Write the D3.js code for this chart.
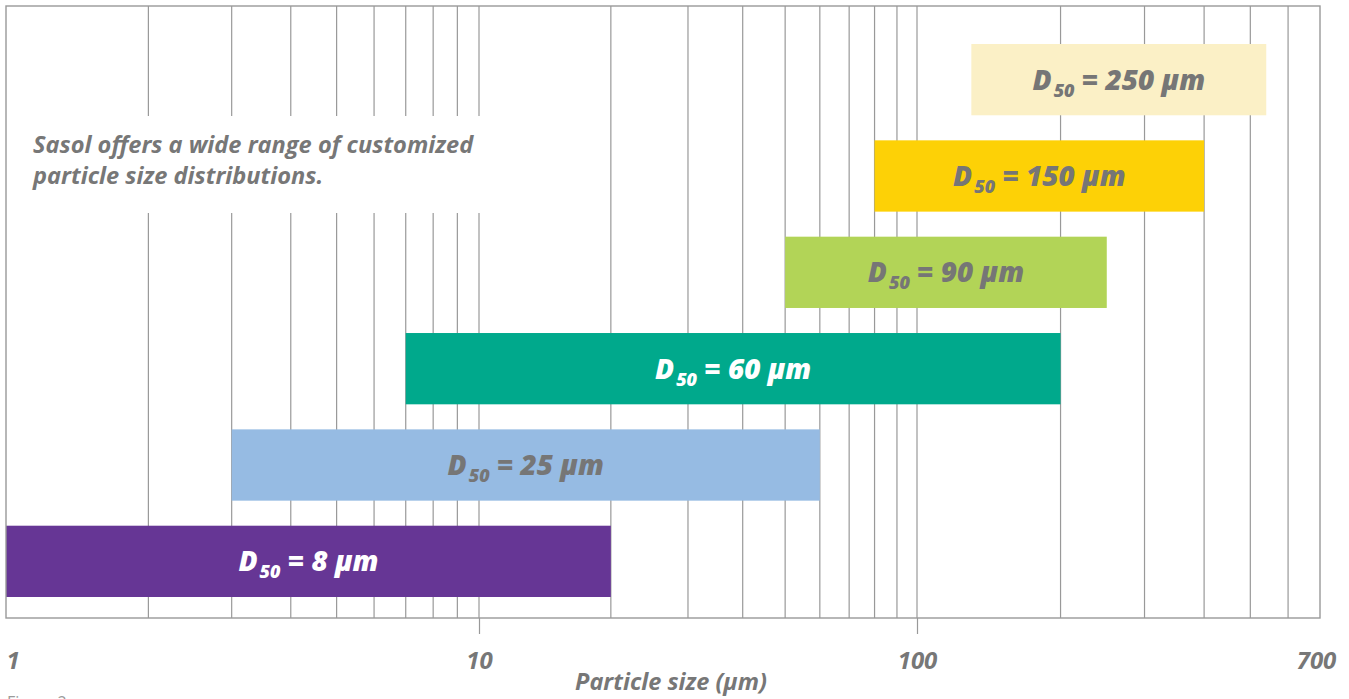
<!DOCTYPE html>
<html>
<head>
<meta charset="utf-8">
<script src="https://cdn.jsdelivr.net/npm/d3@7/dist/d3.min.js"></script>
<style>
  html, body { margin: 0; padding: 0; background: #fff; }
  svg { display: block; }
  text { font-family: "Open Sans", "DejaVu Sans", sans-serif; }
</style>
</head>
<body>
<svg id="chart" width="1349" height="699"></svg>
<script>
// ---- data ----
const categories = ["250", "150", "90", "60", "25", "8"];           // D50 in µm, top to bottom
const rangeMin   = [130, 80, 50, 7, 3, 1];                          // lower end of distribution (µm)
const rangeMax   = [540, 400, 250, 200, 60, 20];                    // upper end of distribution (µm)
const barColors  = ["#fbf0c6", "#fdd106", "#b2d457", "#00a98c", "#96bbe3", "#663695"];
const labelColors = ["#767676", "#767676", "#767676", "#ffffff", "#767676", "#ffffff"];
const tickValues = [1, 10, 100, 700];
const tickLabels = ["1", "10", "100", "700"];
const gridValues = [2, 3, 4, 5, 6, 7, 8, 9, 20, 30, 40, 50, 60, 70, 80, 90, 200, 300, 400, 500, 600];
const axisTitle = "Particle size (µm)";
const captionLines = ["Sasol offers a wide range of customized", "particle size distributions."];

// ---- layout ----
const svg = d3.select("#chart");
const plot = { left: 6, right: 1320, top: 6, bottom: 618 };
const gray = "#999999";
const textGray = "#777777";

const x = d3.scaleLog()
  .domain([1, 10, 100, 700])
  .range([plot.left, 479, 917, plot.right]);

const y = d3.scaleBand()
  .domain(categories)
  .range([44, 597])
  .paddingInner(0.26)
  .paddingOuter(0);

// gridlines
svg.append("g").selectAll("line").data(gridValues.concat([10, 100])).join("line")
  .attr("x1", d => x(d)).attr("x2", d => x(d))
  .attr("y1", plot.top).attr("y2", plot.bottom)
  .attr("stroke", gray).attr("stroke-width", 1.2);

// white box behind caption
svg.append("rect")
  .attr("x", plot.left + 1).attr("y", 116)
  .attr("width", 500).attr("height", 97)
  .attr("fill", "#fff");

// caption
const cap = svg.append("text")
  .attr("font-size", 23.6).attr("font-weight", 700).attr("font-style", "italic")
  .attr("fill", textGray);
captionLines.forEach((t, i) => {
  cap.append("tspan").attr("x", 33).attr("y", 153 + i * 31).text(t);
});

// bars
const rows = categories.map((c, i) => ({ c, lo: rangeMin[i], hi: rangeMax[i], color: barColors[i], lc: labelColors[i] }));
svg.append("g").selectAll("rect").data(rows).join("rect")
  .attr("x", d => x(d.lo))
  .attr("y", d => y(d.c))
  .attr("width", d => x(d.hi) - x(d.lo))
  .attr("height", y.bandwidth())
  .attr("fill", d => d.color);

// bar labels
const lab = svg.append("g").selectAll("text").data(rows).join("text")
  .attr("x", d => (x(d.lo) + x(d.hi)) / 2)
  .attr("y", d => y(d.c) + y.bandwidth() / 2 + 10)
  .attr("text-anchor", "middle")
  .attr("font-size", 28).attr("font-weight", 800).attr("font-style", "italic")
  .attr("fill", d => d.lc);
lab.append("tspan").text("D");
lab.append("tspan").attr("font-size", 18).attr("dy", 7).attr("dx", 2).text("50");
lab.append("tspan").attr("dy", -7).text(d => " = " + d.c + " µm");

// frame
svg.append("rect")
  .attr("x", plot.left).attr("y", plot.top)
  .attr("width", plot.right - plot.left).attr("height", plot.bottom - plot.top)
  .attr("fill", "none").attr("stroke", gray).attr("stroke-width", 1.4);

// axis
const axis = d3.axisBottom(x)
  .tickValues(tickValues)
  .tickFormat((d, i) => tickLabels[i])
  .tickSize(16)
  .tickPadding(18);
const ag = svg.append("g").attr("transform", `translate(0,${plot.bottom})`).call(axis);
ag.select(".domain").remove();
ag.selectAll(".tick line").attr("stroke", gray).attr("stroke-width", 1.2)
  .attr("display", d => (d === 10 || d === 100) ? null : "none");
ag.selectAll(".tick text")
  .attr("font-family", "'Open Sans', sans-serif")
  .attr("font-size", 24).attr("font-weight", 700).attr("font-style", "italic")
  .attr("fill", textGray)
  .attr("text-anchor", d => d === 1 ? "start" : "middle")
  .attr("dx", d => d === 1 ? 0 : (d === 700 ? -4 : 0));

// axis title
svg.append("text")
  .attr("x", 671).attr("y", 690)
  .attr("text-anchor", "middle")
  .attr("font-size", 23.5).attr("font-weight", 700).attr("font-style", "italic")
  .attr("fill", textGray)
  .text(axisTitle);

// figure caption (cut off at bottom, as in the reference)
svg.append("text")
  .attr("x", 7).attr("y", 708)
  .attr("font-size", 16)
  .attr("fill", "#9a9a9a")
  .text("Figure 2");
</script>
</body>
</html>
